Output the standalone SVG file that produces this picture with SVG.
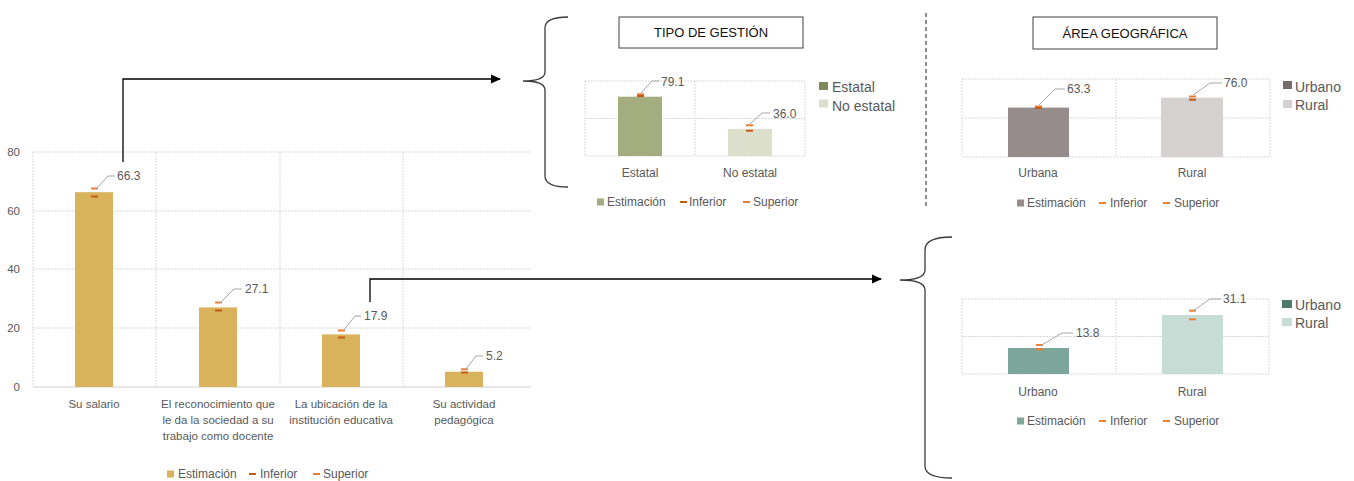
<svg xmlns="http://www.w3.org/2000/svg" width="1354" height="481" viewBox="0 0 1354 481">
<defs>
<style>
text{font-family:"Liberation Sans",Arial,sans-serif;fill:#595959}
.t11{font-size:11.5px}
.t12{font-size:12px}
.t14{font-size:14px}
.mid{text-anchor:middle}
.end{text-anchor:end}
.grid{stroke:#D9D9D9;stroke-width:1;fill:none;stroke-dasharray:2 1}
.axis{stroke:#D0D0D0;stroke-width:1;fill:none}
.lead{stroke:#A6A6A6;stroke-width:1;fill:none}
.inf{fill:#C55A11}
.sup{fill:#ED7D31}
.conn{stroke:#000;stroke-width:1.3;fill:none}
.brace{stroke:#3A3A3A;stroke-width:1.3;fill:none}
.title{fill:#fff;stroke:#404040;stroke-width:1}
.ttl{font-size:13px;fill:#111;text-anchor:middle}
</style>
<marker id="arr" viewBox="0 0 10 10" refX="9" refY="5" markerWidth="10" markerHeight="10" markerUnits="userSpaceOnUse" orient="auto">
<path d="M0,0.5 L10,5 L0,9.5 Z" fill="#000"/>
</marker>
</defs>
<rect width="1354" height="481" fill="#fff"/>

<g id="main-chart">
<g>
<line class="grid" x1="33" y1="152" x2="531" y2="152"/>
<line class="grid" x1="33" y1="211" x2="531" y2="211"/>
<line class="grid" x1="33" y1="269" x2="531" y2="269"/>
<line class="grid" x1="33" y1="328" x2="531" y2="328"/>
<line class="grid" x1="33" y1="152" x2="33" y2="387"/>
<line class="grid" x1="156" y1="152" x2="156" y2="387"/>
<line class="grid" x1="280" y1="152" x2="280" y2="387"/>
<line class="grid" x1="403" y1="152" x2="403" y2="387"/>
<line class="axis" x1="33" y1="387" x2="531" y2="387"/>
</g>
<text class="t11 end" x="20" y="156">80</text>
<text class="t11 end" x="20" y="215">60</text>
<text class="t11 end" x="20" y="273">40</text>
<text class="t11 end" x="20" y="332">20</text>
<text class="t11 end" x="20" y="391">0</text>
<rect x="75" y="192.2" width="38" height="194.8" fill="#D9B25C"/>
<rect x="199" y="307.4" width="38" height="79.6" fill="#D9B25C"/>
<rect x="322" y="334.4" width="38" height="52.6" fill="#D9B25C"/>
<rect x="445" y="371.7" width="38" height="15.3" fill="#D9B25C"/>
<rect class="sup" x="91" y="187.5" width="7" height="2"/>
<rect class="inf" x="91" y="195.5" width="7" height="2"/>
<rect class="sup" x="215" y="301.5" width="7" height="2"/>
<rect class="inf" x="215" y="309.5" width="7" height="2"/>
<rect class="sup" x="338" y="329.5" width="7" height="2"/>
<rect class="inf" x="338" y="336.5" width="7" height="2"/>
<rect class="sup" x="461" y="368.3" width="7" height="2"/>
<rect class="inf" x="461" y="371.5" width="7" height="2"/>
<path class="lead" d="M96,189 L108,176 L115,176"/>
<path class="lead" d="M220,303 L234,289 L242,289"/>
<path class="lead" d="M343,331 L355,316 L361,316"/>
<path class="lead" d="M466,369 L476,356 L483,356"/>
<text class="t12" x="117" y="180">66.3</text>
<text class="t12" x="245" y="293">27.1</text>
<text class="t12" x="364" y="320">17.9</text>
<text class="t12" x="486" y="360">5.2</text>
<text class="t11 mid" x="94" y="408">Su salario</text>
<text class="t11 mid" x="218" y="408">El reconocimiento que</text>
<text class="t11 mid" x="218" y="424">le da la sociedad a su</text>
<text class="t11 mid" x="218" y="440">trabajo como docente</text>
<text class="t11 mid" x="341" y="408">La ubicación de la</text>
<text class="t11 mid" x="341" y="424">institución educativa</text>
<text class="t11 mid" x="464" y="408">Su actividad</text>
<text class="t11 mid" x="464" y="424">pedagógica</text>
<rect x="167" y="470.5" width="7" height="7" fill="#D9B25C"/>
<text class="t12" x="178" y="478">Estimación</text>
<rect class="inf" x="249" y="473" width="7" height="2"/>
<text class="t12" x="260" y="478">Inferior</text>
<rect class="sup" x="313" y="473" width="7" height="2"/>
<text class="t12" x="323" y="478">Superior</text>
</g>

<g id="tipo-gestion">
<path class="brace" d="M568,17 Q545,17 545,28 L545,72 Q545,81 523,81 Q545,81 545,90 L545,176 Q545,187 568,187"/>
<rect class="title" x="619" y="17" width="184" height="31"/>
<text class="ttl" x="711" y="37">TIPO DE GESTIÓN</text>
<rect class="grid" x="585" y="81" width="220" height="75"/>
<line class="grid" x1="585" y1="118.5" x2="805" y2="118.5"/>
<line class="grid" x1="695" y1="81" x2="695" y2="156"/>
<rect x="618" y="96.7" width="44" height="59.3" fill="#A4AD7E"/>
<rect x="728" y="129" width="44" height="27" fill="#DCDFCB"/>
<rect class="sup" x="637" y="93.3" width="7" height="2"/>
<rect class="inf" x="637" y="95" width="7" height="2"/>
<rect class="sup" x="746" y="124.3" width="7" height="2"/>
<rect class="inf" x="746" y="129.7" width="7" height="2"/>
<path class="lead" d="M641,93 L652,81 L659,81"/>
<path class="lead" d="M750,124 L762,113 L770,113"/>
<text class="t12" x="661" y="86">79.1</text>
<text class="t12" x="773" y="118">36.0</text>
<text class="t12 mid" x="640" y="177">Estatal</text>
<text class="t12 mid" x="750" y="177">No estatal</text>
<rect x="819" y="82" width="9" height="8" fill="#7E8A59"/>
<text class="t14" x="832" y="92">Estatal</text>
<rect x="819" y="99.5" width="9" height="8" fill="#DCDFCB"/>
<text class="t14" x="832" y="111">No estatal</text>
<rect x="597" y="198.5" width="7" height="7" fill="#A4AD7E"/>
<text class="t12" x="607" y="206">Estimación</text>
<rect class="inf" x="680" y="201" width="7" height="2"/>
<text class="t12" x="689" y="206">Inferior</text>
<rect class="sup" x="743" y="201" width="7" height="2"/>
<text class="t12" x="753" y="206">Superior</text>
</g>

<line id="separator" x1="926" y1="13" x2="926" y2="209" stroke="#444" stroke-width="1.2" stroke-dasharray="4 3"/>

<g id="area-geografica">
<rect class="title" x="1033" y="17" width="184" height="32"/>
<text class="ttl" x="1125" y="38">ÁREA GEOGRÁFICA</text>
<rect class="grid" x="962" y="79" width="308" height="78"/>
<line class="grid" x1="962" y1="118" x2="1270" y2="118"/>
<line class="grid" x1="1116" y1="79" x2="1116" y2="157"/>
<rect x="1008" y="107.6" width="61" height="49.4" fill="#978C8C"/>
<rect x="1161" y="97.7" width="62" height="59.3" fill="#D5D1D1"/>
<rect class="sup" x="1035" y="105.5" width="7" height="2"/>
<rect class="inf" x="1035" y="107" width="7" height="2"/>
<rect class="sup" x="1189" y="95.5" width="7" height="2"/>
<rect class="inf" x="1189" y="98.7" width="7" height="2"/>
<path class="lead" d="M1039,105 L1055,89 L1065,89"/>
<path class="lead" d="M1193,95 L1210,83 L1222,83"/>
<text class="t12" x="1067" y="93">63.3</text>
<text class="t12" x="1224" y="87">76.0</text>
<text class="t12 mid" x="1038" y="177">Urbana</text>
<text class="t12 mid" x="1192" y="177">Rural</text>
<rect x="1283" y="81" width="9" height="8" fill="#776B6B"/>
<text class="t14" x="1295" y="92">Urbano</text>
<rect x="1283" y="100" width="9" height="8" fill="#D5D1D1"/>
<text class="t14" x="1295" y="110">Rural</text>
<rect x="1017" y="199.5" width="7" height="7" fill="#978C8C"/>
<text class="t12" x="1027" y="207">Estimación</text>
<rect class="sup" x="1099" y="202" width="7" height="2"/>
<text class="t12" x="1110" y="207">Inferior</text>
<rect class="sup" x="1163" y="202" width="7" height="2"/>
<text class="t12" x="1174" y="207">Superior</text>
</g>

<g id="area-geografica-2">
<path class="brace" d="M952,237 Q925,237 925,250 L925,270 Q925,280 900,280 Q925,280 925,290 L925,466 Q925,478 952,478"/>
<rect class="grid" x="962" y="299" width="307" height="75"/>
<line class="grid" x1="962" y1="336.5" x2="1269" y2="336.5"/>
<line class="grid" x1="1116" y1="299" x2="1116" y2="374"/>
<rect x="1008" y="348" width="61" height="26" fill="#7CA699"/>
<rect x="1162" y="315" width="61" height="59" fill="#C8DCD6"/>
<rect class="sup" x="1036" y="344" width="7" height="2"/>
<rect class="sup" x="1036" y="348.3" width="7" height="2"/>
<rect class="sup" x="1189" y="309.7" width="7" height="2"/>
<rect class="sup" x="1189" y="318.3" width="7" height="2"/>
<path class="lead" d="M1040,346 L1062,333 L1073,333"/>
<path class="lead" d="M1193,311 L1210,299 L1221,299"/>
<text class="t12" x="1076" y="337">13.8</text>
<text class="t12" x="1223" y="303">31.1</text>
<text class="t12 mid" x="1038" y="396">Urbano</text>
<text class="t12 mid" x="1192" y="396">Rural</text>
<rect x="1282" y="300" width="10" height="8" fill="#4E7A6C"/>
<text class="t14" x="1295" y="310">Urbano</text>
<rect x="1282" y="318" width="10" height="8" fill="#C8DCD6"/>
<text class="t14" x="1295" y="328">Rural</text>
<rect x="1017" y="417.5" width="7" height="7" fill="#7CA699"/>
<text class="t12" x="1027" y="425">Estimación</text>
<rect class="sup" x="1099" y="420" width="7" height="2"/>
<text class="t12" x="1110" y="425">Inferior</text>
<rect class="sup" x="1163" y="420" width="7" height="2"/>
<text class="t12" x="1174" y="425">Superior</text>
</g>

<g id="connectors">
<path class="conn" d="M123,162 L123,79 L500,79" marker-end="url(#arr)"/>
<path class="conn" d="M370,302 L370,279 L881,279" marker-end="url(#arr)"/>
</g>
</svg>
